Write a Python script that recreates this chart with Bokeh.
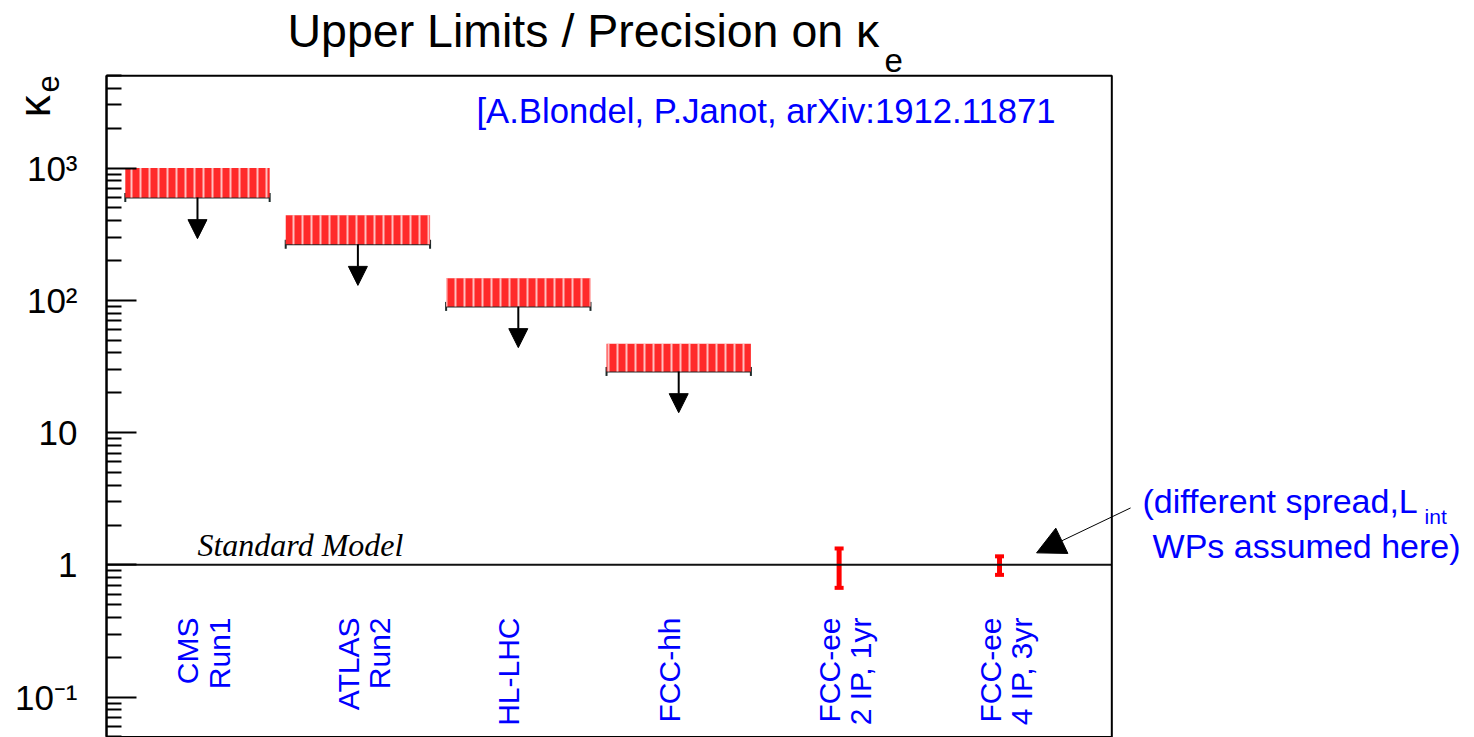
from math import pi

from bokeh.core.properties import value
from bokeh.embed import file_html
from bokeh.models import (Arrow, BoxAnnotation, ColumnDataSource, FixedTicker,
                          Label, NormalHead, TeeHead, Whisker)
from bokeh.plotting import figure
from bokeh.resources import INLINE

# Scenarios along the horizontal axis (one slot each)
experiments = ["CMS\nRun1", "ATLAS\nRun2", "HL-LHC", "FCC-hh",
               "FCC-ee\n2 IP, 1yr", "FCC-ee\n4 IP, 3yr"]
slots = [1, 2, 3, 4, 5, 6]

# Hadron colliders: upper limit on kappa_e and top of the shaded box
limit_experiments = ["CMS\nRun1", "ATLAS\nRun2", "HL-LHC", "FCC-hh"]
upper_limit = [600, 266, 90, 29]
box_top = [1000, 440, 147, 47]

# FCC-ee s-channel run: expected precision around the SM value
precision_experiments = ["FCC-ee\n2 IP, 1yr", "FCC-ee\n4 IP, 3yr"]
kappa_central = [1.0, 1.0]
kappa_error = [0.33, 0.16]

sm_value = 1.0

tick_values = [0.1, 1, 10, 100, 1000]
tick_labels = ["10\u207b\u00b9", "1", "10", "10\u00b2", "10\u00b3"]

# drawing styles
SANS = "Liberation Sans"
SERIF = "Liberation Serif"
BLUE = "#0000ff"
PAD_X = (0.433, 6.70)    # horizontal extent of the framed pad
PAD_Y = (0.05, 5000)     # vertical extent of the framed pad
BOX_HALF = 0.45          # half width of each limit box, in slots
ARROW_DROP = 2.05        # limit arrow goes down by this factor
LABEL_TOP = 0.4          # upper end of the rotated scenario names

slot_of = dict(zip(experiments, slots))

# The canvas is one big frame so that the title and side notes can live
# around the framed pad; the pad itself is drawn as a box.
p = figure(width=1474, height=737, y_axis_type="log",
           x_range=(-0.228, 8.961), y_range=(0.0495, 18500),
           x_axis_location=None, title=None, toolbar_location=None,
           output_backend="svg", min_border=0)
p.xgrid.visible = False
p.ygrid.visible = False
p.outline_line_color = None
p.background_fill_color = "white"
p.border_fill_color = "white"

p.add_layout(BoxAnnotation(left=PAD_X[0], right=PAD_X[1],
                           bottom=PAD_Y[0], top=PAD_Y[1],
                           fill_alpha=0, line_color="black", line_alpha=1,
                           line_width=2))

# log axis with ROOT-like inward ticks, pinned to the pad's left edge
minor = [m * 10.0 ** e for e in range(-2, 4) for m in range(2, 10)
         if PAD_Y[0] <= m * 10.0 ** e <= PAD_Y[1]]
ax = p.yaxis[0]
ax.fixed_location = PAD_X[0]
ax.bounds = PAD_Y
ax.ticker = FixedTicker(ticks=tick_values, minor_ticks=minor)
ax.major_label_overrides = dict(zip(tick_values, tick_labels))
ax.axis_line_width = 2
ax.axis_line_color = "black"
ax.major_tick_line_width = 2
ax.minor_tick_line_width = 2
ax.major_tick_in = 30
ax.major_tick_out = 0
ax.minor_tick_in = 15
ax.minor_tick_out = 0
ax.major_label_standoff = 29
ax.major_label_text_font = SANS
ax.major_label_text_font_size = "35px"
ax.major_label_text_color = "black"

# Standard Model reference line
p.segment(x0=PAD_X[0], x1=PAD_X[1], y0=sm_value, y1=sm_value,
          line_color="#111111", line_width=2)
p.add_layout(Label(x=slot_of[experiments[0]], y=sm_value, y_offset=20,
                   text="Standard Model", text_font=SERIF,
                   text_font_style="italic", text_font_size="32px",
                   text_color="black", text_baseline="alphabetic"))

# limit boxes
lim_x = [slot_of[n] for n in limit_experiments]
limits = ColumnDataSource(dict(
    x=lim_x,
    left=[x - BOX_HALF for x in lim_x],
    right=[x + BOX_HALF for x in lim_x],
    lim=upper_limit,
    top=box_top,
    tip=[v / ARROW_DROP for v in upper_limit],
))
p.quad(left="left", right="right", bottom="lim", top="top", source=limits,
       fill_color="#ff2a2a", line_color=None,
       hatch_pattern="|", hatch_color="white", hatch_alpha=0.7,
       hatch_scale=9, hatch_weight=2)
p.add_layout(Whisker(source=limits, base="lim", lower="left", upper="right",
                     dimension="width", line_color="#1c2a2a", line_width=2,
                     lower_head=TeeHead(size=9, line_color="#1c2a2a", line_width=2),
                     upper_head=TeeHead(size=9, line_color="#1c2a2a", line_width=2)))
p.add_layout(Arrow(source=limits, x_start="x", y_start="lim", x_end="x", y_end="tip",
                   line_color="black", line_width=2,
                   end=NormalHead(size=19, fill_color="black", line_color="black")))

# FCC-ee precision bars
pre_x = [slot_of[n] for n in precision_experiments]
precision = ColumnDataSource(dict(
    x=pre_x,
    lo=[c - e for c, e in zip(kappa_central, kappa_error)],
    hi=[c + e for c, e in zip(kappa_central, kappa_error)],
))
p.add_layout(Whisker(source=precision, base="x", lower="lo", upper="hi",
                     line_color="red", line_width=5,
                     lower_head=TeeHead(size=9, line_color="red", line_width=4),
                     upper_head=TeeHead(size=9, line_color="red", line_width=4)))

# scenario names, written upward under the SM line
names = ColumnDataSource(dict(x=slots, y=[LABEL_TOP] * len(slots), text=experiments))
p.text(x="x", y="y", text="text", source=names, angle=pi / 2,
       x_offset=-26, text_align="right", text_baseline="top",
       text_font=value(SANS), text_font_size="30px", text_color=BLUE,
       text_line_height=0.95)

# title with subscript
p.add_layout(Label(x=1.561, y=10965, text="Upper Limits / Precision on \u03ba",
                   text_font=SANS, text_font_size="46.5px", text_color="black",
                   text_baseline="alphabetic"))
p.add_layout(Label(x=5.283, y=6520, text="e", text_font=SANS,
                   text_font_size="33px", text_color="black",
                   text_baseline="alphabetic"))

# vertical axis title
p.add_layout(Label(x=-0.016, y=2420, text="\u03ba", angle=pi / 2,
                   text_font=SANS, text_font_size="44px", text_color="black",
                   text_baseline="alphabetic"))
p.add_layout(Label(x=0.071, y=3735, text="e", angle=pi / 2,
                   text_font=SANS, text_font_size="31px", text_color="black",
                   text_baseline="alphabetic"))

# reference
p.add_layout(Label(x=2.739, y=2724, text="[A.Blondel, P.Janot, arXiv:1912.11871",
                   text_font=SANS, text_font_size="34.7px", text_color=BLUE,
                   text_baseline="alphabetic"))

# side note pointing at the FCC-ee precision
p.add_layout(Label(x=6.891, y=3.06, text="(different spread,L",
                   text_font=SANS, text_font_size="34px", text_color=BLUE,
                   text_baseline="alphabetic"))
p.add_layout(Label(x=8.650, y=2.318, text="int",
                   text_font=SANS, text_font_size="21px", text_color=BLUE,
                   text_baseline="alphabetic"))
p.add_layout(Label(x=6.954, y=1.40, text="WPs assumed here)",
                   text_font=SANS, text_font_size="34px", text_color=BLUE,
                   text_baseline="alphabetic"))
p.add_layout(Arrow(x_start=6.817, y_start=2.694, x_end=6.231, y_end=1.232,
                   line_color="black", line_width=1,
                   end=NormalHead(size=28, fill_color="black", line_color="black")))

open("out.html", "w").write(file_html(p, INLINE))
